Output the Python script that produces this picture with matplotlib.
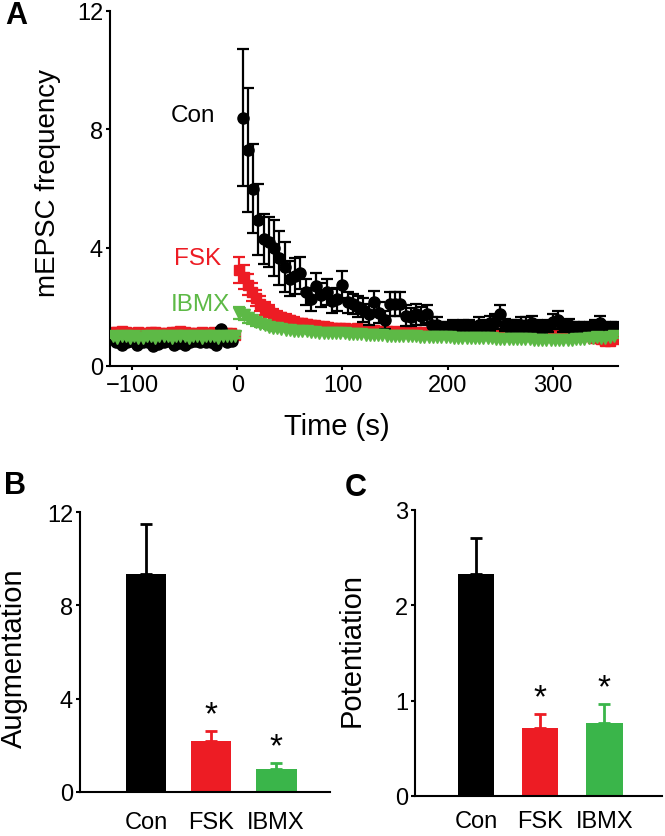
import numpy as np
import matplotlib
matplotlib.use('Agg')
import matplotlib.pyplot as plt

plt.rcParams['font.family'] = ['Liberation Sans', 'DejaVu Sans']

red = '#ED1C24'
green_line = '#5DB946'
green_bar = '#3AB54A'

#Panel A data: Con binned at 5 s, FSK and IBMX at 4 s
con_t_pre = list(range(-115, 0, 5))
con_pre = [0.8, 0.7, 0.8, 0.85, 0.72, 0.8, 0.8, 0.68, 0.75, 0.8, 0.85, 0.72, 0.78, 0.72,
           0.8, 0.85, 0.8, 0.8, 0.8, 0.7, 1.25, 0.8, 0.85]
con_t_post = list(range(5, 361, 5))
con_post = [8.4, 7.3, 6.0, 4.95, 4.3, 4.2, 4.0, 3.65, 3.35, 2.95,
            3.05, 3.15, 2.5, 2.25, 2.7, 2.4, 2.5, 2.2, 2.25, 2.75,
            2.15, 2.1, 2.0, 1.9, 1.75, 2.15, 1.8, 1.55, 2.1, 2.1,
            2.1, 1.7, 1.65, 1.75, 1.7, 1.75, 1.4, 1.4, 1.3, 1.3,
            1.35, 1.3, 1.35, 1.35, 1.3, 1.4, 1.35, 1.45, 1.5, 1.75,
            1.4, 1.35, 1.35, 1.4, 1.4, 1.45, 1.35, 1.3, 1.35, 1.5,
            1.55, 1.35, 1.4, 1.3, 1.3, 1.3, 1.3, 1.35, 1.45, 1.3,
            1.3, 1.3]
con_err_post = [2.3, 2.1, 1.5, 1.2, 0.85, 0.85, 0.95, 0.9, 0.85, 0.6,
                0.6, 0.55, 0.45, 0.4, 0.45, 0.4, 0.45, 0.4, 0.4, 0.45,
                0.35, 0.35, 0.35, 0.4, 0.35, 0.4, 0.35, 0.3, 0.4, 0.4,
                0.4, 0.35, 0.3, 0.35, 0.3, 0.3, 0.25, 0.25, 0.2, 0.2,
                0.2, 0.2, 0.2, 0.2, 0.2, 0.25, 0.2, 0.25, 0.25, 0.3,
                0.2, 0.2, 0.2, 0.25, 0.25, 0.25, 0.2, 0.2, 0.2, 0.25,
                0.3, 0.2, 0.2, 0.2, 0.2, 0.2, 0.2, 0.2, 0.25, 0.2,
                0.2, 0.2]

fsk_t_pre = list(range(-118, 0, 4))
fsk_pre = [1.15, 1.15, 1.2, 1.15, 1.1, 1.1, 1.15, 1.1, 1.1, 1.15,
           1.15, 1.1, 1.1, 1.1, 1.15, 1.15, 1.2, 1.15, 1.1, 1.1,
           1.1, 1.15, 1.1, 1.1, 1.15, 1.1, 1.05, 1.1, 1.1, 1.05]
fsk_t_post = list(range(2, 360, 4))
fsk_post = [3.25, 3.0, 2.75, 2.5, 2.3, 2.1, 1.95, 1.85, 1.75, 1.7,
            1.65, 1.6, 1.55, 1.5, 1.47, 1.45, 1.42, 1.4, 1.38, 1.35,
            1.35, 1.32, 1.3, 1.3, 1.28, 1.3, 1.25, 1.25, 1.27, 1.22,
            1.25, 1.2, 1.22, 1.2, 1.18, 1.2, 1.15, 1.18, 1.15, 1.15,
            1.17, 1.12, 1.15, 1.12, 1.15, 1.12, 1.1, 1.12, 1.1, 1.12,
            1.15, 1.1, 1.12, 1.1, 1.12, 1.1, 1.12, 1.1, 1.08, 1.1,
            1.12, 1.1, 1.08, 1.1, 1.1, 1.12, 1.1, 1.08, 1.1, 1.05,
            1.08, 1.05, 1.08, 1.05, 1.05, 1.1, 1.05, 1.08, 1.1, 1.05,
            1.05, 1.0, 1.05, 1.0, 0.95, 0.95, 0.9, 0.85, 0.85, 0.9]
fsk_err_post = [0.45, 0.4, 0.35, 0.3, 0.28, 0.25, 0.22, 0.2, 0.18, 0.17,
                0.15, 0.15, 0.14, 0.14, 0.13, 0.13, 0.12, 0.12, 0.12, 0.12] + [0.1] * 70

ibmx_t_pre = list(range(-118, 0, 4))
ibmx_pre = [1.0, 0.95, 1.0, 1.0, 0.95, 1.0, 0.95, 0.95, 1.0, 1.0,
            0.95, 1.0, 1.0, 1.0, 0.95, 1.0, 1.0, 1.0, 0.95, 1.0,
            1.0, 0.95, 1.0, 1.0, 1.0, 0.95, 1.0, 1.0, 1.0, 1.0]
ibmx_t_post = list(range(2, 360, 4))
ibmx_post = [1.8, 1.72, 1.62, 1.55, 1.48, 1.42, 1.38, 1.33, 1.3, 1.28,
             1.25, 1.23, 1.22, 1.2, 1.2, 1.18, 1.17, 1.15, 1.15, 1.13,
             1.13, 1.12, 1.12, 1.1, 1.1, 1.1, 1.08, 1.08, 1.07, 1.07,
             1.06, 1.05, 1.05, 1.05, 1.04, 1.03, 1.03, 1.02, 1.02, 1.01,
             1.0, 1.0, 1.0, 0.99, 0.99, 0.98, 0.98, 0.98, 0.97, 0.97,
             0.97, 0.96, 0.96, 0.95, 0.95, 0.95, 0.94, 0.94, 0.93, 0.93,
             0.93, 0.92, 0.92, 0.92, 0.91, 0.91, 0.9, 0.9, 0.9, 0.9,
             0.89, 0.89, 0.89, 0.88, 0.88, 0.88, 0.88, 0.87, 0.88, 0.88,
             0.9, 0.9, 0.92, 0.93, 0.95, 0.97, 0.95, 0.95, 0.97, 1.0]
ibmx_err_post = [0.2, 0.18, 0.16, 0.14, 0.12, 0.1, 0.1, 0.09, 0.08, 0.08] + [0.06] * 80

#Panel B and C data
groups = ['Con', 'FSK', 'IBMX']
augmentation = [9.35, 2.2, 1.0]
augmentation_err = [2.15, 0.4, 0.25]
potentiation = [2.33, 0.71, 0.77]
potentiation_err = [0.38, 0.15, 0.2]
bar_colors = ['black', red, green_bar]
significant = [False, True, True]

fig = plt.figure(figsize=(6.65, 8.37), dpi=100)

def style_axes(ax):
    for side in ['top', 'right']:
        ax.spines[side].set_visible(False)
    for side in ['left', 'bottom']:
        ax.spines[side].set_linewidth(1.5)
    ax.tick_params(width=1.5, length=3, labelsize=17, pad=2)

#Panel A: time course
ax1 = fig.add_axes([110/665, 1 - 367/837, 508/665, 355/837])
err_style = dict(capsize=4.5, elinewidth=1.6, capthick=1.6, linestyle='none')

ax1.errorbar(fsk_t_pre + fsk_t_post, fsk_pre + fsk_post,
             yerr=[0.05] * len(fsk_pre) + fsk_err_post,
             marker='s', ms=7, color=red, zorder=2, **err_style)
ax1.errorbar(con_t_pre + con_t_post, con_pre + con_post,
             yerr=[0.05] * len(con_pre) + con_err_post,
             marker='o', ms=8, color='black', zorder=3, **err_style)
ax1.errorbar(ibmx_t_pre + ibmx_t_post, ibmx_pre + ibmx_post,
             yerr=[0.04] * len(ibmx_pre) + ibmx_err_post,
             marker='v', ms=8, color=green_line, zorder=4, **err_style)

ax1.set_xlim(-121, 362)
ax1.set_ylim(0, 12)
ax1.set_xticks([-100, 0, 100, 200, 300])
ax1.set_yticks([0, 4, 8, 12])
style_axes(ax1)
ax1.tick_params(axis='x', pad=3)

ax1.text(-42, 8.5, 'Con', fontsize=17.5, ha='center', va='center', color='black')
ax1.text(-38, 3.65, 'FSK', fontsize=17.5, ha='center', va='center', color=red)
ax1.text(-35, 2.1, 'IBMX', fontsize=17.5, ha='center', va='center', color=green_line)

fig.text(48/665, 1 - 183/837, 'mEPSC frequency', rotation=90, fontsize=20,
         ha='center', va='center')
fig.text(337/665, 1 - 435/837, 'Time (s)', fontsize=21, ha='center', va='baseline')

#Panels B and C: bar charts
def bar_panel(rect, values, errors, ymax, yticks, xlim, width, star_y, label_pad):
    ax = fig.add_axes(rect)
    x = np.arange(len(groups))
    ax.bar(x, values, width=width, color=bar_colors, zorder=2)
    for xi, v, e, c in zip(x, values, errors, bar_colors):
        ax.errorbar(xi, v, yerr=[[0], [e]], color=c, capsize=4, elinewidth=2,
                    capthick=2, zorder=1)
    for xi, sig, sy in zip(x, significant, star_y):
        if sig:
            ax.text(xi, sy, '*', fontsize=24, ha='center', va='center')
    ax.set_xlim(*xlim)
    ax.set_ylim(0, ymax)
    ax.set_yticks(yticks)
    ax.set_xticks(x)
    ax.set_xticklabels(groups)
    style_axes(ax)
    ax.tick_params(axis='x', length=0, pad=label_pad)
    return ax

ax2 = bar_panel([80/665, 1 - 793/837, 250/665, 280/837], augmentation, augmentation_err,
                12, [0, 4, 8, 12], (-1.015, 2.83), 0.63, [0, 3.3, 1.95], 14)
ax3 = bar_panel([415/665, 1 - 797/837, 247/665, 286/837], potentiation, potentiation_err,
                3, [0, 1, 2, 3], (-0.95, 2.9), 0.57, [0, 1.03, 1.14], 10)

fig.text(14/665, 1 - 658/837, 'Augmentation', rotation=90, fontsize=21,
         ha='center', va='center')
fig.text(352/665, 1 - 650/837, 'Potentiation', rotation=90, fontsize=21,
         ha='center', va='center')

#Panel letters
fig.text(16/665, 1 - 16/837, 'A', fontsize=22, fontweight='bold', ha='center', va='center')
fig.text(15/665, 1 - 486/837, 'B', fontsize=22, fontweight='bold', ha='center', va='center')
fig.text(356/665, 1 - 488/837, 'C', fontsize=22, fontweight='bold', ha='center', va='center')

fig.savefig('out.png', dpi=100)
